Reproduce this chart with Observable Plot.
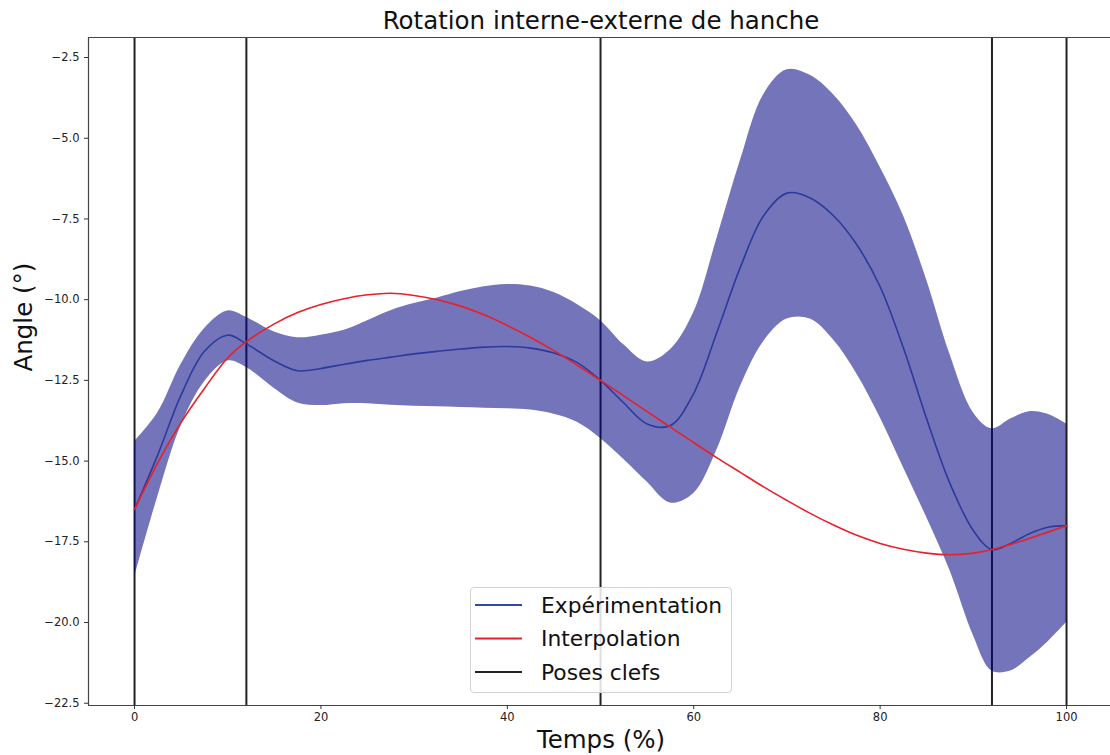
<!DOCTYPE html>
<html>
<head>
<meta charset="utf-8">
<script src="https://cdn.jsdelivr.net/npm/d3@7"></script>
<script src="https://cdn.jsdelivr.net/npm/@observablehq/plot@0.6"></script>
<style>
  html, body { margin: 0; padding: 0; background: #fff; overflow: hidden; }
  #wrap { position: relative; width: 1110px; height: 755px; overflow: hidden; }
  #wrap > svg { max-width: none !important; }
  #legend { position: absolute; left: 470px; top: 587px; width: 262px; height: 106px;
    border: 1px solid #d4d4d4; border-radius: 4px; background: rgba(255,255,255,0.85); box-sizing: border-box; }
</style>
</head>
<body>
<div id="wrap"></div>
<script>
// ---- data ----
const time   = [0, 2.5, 5, 7.5, 10, 12, 15, 17.5, 20, 22.5, 25, 27.5, 30, 32.5, 35, 37.5, 40, 42.5, 45, 47.5, 50, 52.5, 55, 57.5, 60, 62.5, 65, 67.5, 70, 72.5, 75, 77.5, 80, 82.5, 85, 87.5, 90, 92, 94, 96, 98, 100];
const upper  = [-14.4, -13.5, -12.0, -10.9, -10.35, -10.55, -11.0, -11.18, -11.1, -10.95, -10.65, -10.34, -10.12, -9.95, -9.75, -9.6, -9.53, -9.58, -9.78, -10.15, -10.65, -11.4, -11.93, -11.55, -10.4, -8.1, -5.7, -3.65, -2.88, -3.05, -3.65, -4.6, -5.9, -7.4, -9.4, -11.7, -13.5, -14.0, -13.7, -13.47, -13.55, -13.85];
const lower  = [-18.6, -16.1, -13.9, -12.55, -11.9, -12.1, -12.75, -13.2, -13.28, -13.22, -13.22, -13.27, -13.3, -13.32, -13.34, -13.36, -13.38, -13.42, -13.55, -13.8, -14.3, -14.95, -15.65, -16.3, -16.0, -14.65, -12.7, -11.3, -10.6, -10.6, -11.25, -12.3, -13.65, -15.2, -16.75, -18.4, -20.4, -21.5, -21.5, -21.1, -20.6, -20.0];
const meanExp = [-16.5, -14.8, -12.95, -11.6, -11.1, -11.37, -11.9, -12.2, -12.13, -12.0, -11.88, -11.78, -11.68, -11.6, -11.53, -11.47, -11.45, -11.5, -11.65, -11.95, -12.5, -13.2, -13.85, -13.9, -12.9, -11.0, -9.0, -7.4, -6.7, -6.85, -7.4, -8.3, -9.6, -11.5, -13.7, -15.7, -17.15, -17.74, -17.55, -17.25, -17.05, -17.0];
const interp = [-16.5, -15.05, -13.8, -12.75, -11.8, -11.3, -10.75, -10.4, -10.15, -9.97, -9.85, -9.8, -9.87, -10.0, -10.2, -10.47, -10.8, -11.17, -11.58, -12.03, -12.5, -12.98, -13.47, -13.95, -14.43, -14.9, -15.35, -15.8, -16.22, -16.62, -16.98, -17.3, -17.55, -17.73, -17.85, -17.9, -17.85, -17.74, -17.58, -17.4, -17.2, -17.0];
const keyPoses = [0, 12, 50, 92, 100];
const xTicks = [0, 20, 40, 60, 80, 100];
const yTicks = [-22.5, -20, -17.5, -15, -12.5, -10, -7.5, -5, -2.5];
const xDomain = [-4.94, 105.04];
const yDomain = [-22.57, -1.88];
const legendLabels = ["Expérimentation", "Interpolation", "Poses clefs"];
const legendColors = ["#3545b0", "#e8202a", "#222222"];
const titleText = "Rotation interne-externe de hanche";
const xLabel = "Temps (%)";
const yLabel = "Angle (°)";

const rows = time.map((t, i) => ({t, lo: lower[i], hi: upper[i], mean: meanExp[i], interp: interp[i]}));
const curve = "catmull-rom";
const fmt = d3.format(".1f");

const chart = Plot.plot({
  width: 1113,
  height: 755,
  marginLeft: 88,
  marginRight: 0,
  marginTop: 37,
  marginBottom: 50,
  style: {fontFamily: "DejaVu Sans", background: "white", color: "#222", maxWidth: "none"},
  x: {domain: xDomain},
  y: {domain: yDomain},
  marks: [
    Plot.ruleX(keyPoses, {x: d => d, stroke: "#222", strokeWidth: 2}),
    Plot.areaY(rows, {x: "t", y1: "lo", y2: "hi", fill: "#000080", fillOpacity: 0.545, curve}),
    Plot.line(rows, {x: "t", y: "mean", stroke: "#2d3a9c", strokeWidth: 1.6, curve}),
    Plot.line(rows, {x: "t", y: "interp", stroke: "#e8202a", strokeWidth: 1.6, curve}),
    // frame: top, bottom and left sides (right side lies outside the picture)
    Plot.ruleY(yDomain, {y: d => d, stroke: "#444", strokeWidth: 1.2}),
    Plot.ruleX([xDomain[0]], {x: d => d, stroke: "#444", strokeWidth: 1.2}),
    Plot.axisX({ticks: xTicks, tickSize: 4, tickPadding: 3, fontSize: 11.5, label: null, stroke: "#333"}),
    Plot.axisY({ticks: yTicks, tickFormat: fmt, tickSize: 4, tickPadding: 5, fontSize: 11.5, label: null, stroke: "#333"}),
    Plot.text([titleText], {frameAnchor: "top", dy: -16, fontSize: 24.5, fill: "#111", lineAnchor: "middle"}),
    Plot.text([xLabel], {frameAnchor: "bottom", dy: 35, fontSize: 24.5, fill: "#111", lineAnchor: "middle"}),
    Plot.text([yLabel], {frameAnchor: "left", dx: -64, rotate: -90, fontSize: 24.5, fill: "#111", lineAnchor: "middle"})
  ]
});
chart.style.maxWidth = "none";
document.getElementById("wrap").appendChild(chart);

// legend (HTML overlay)
const legend = document.createElement("div");
legend.id = "legend";
const ns = "http://www.w3.org/2000/svg";
const lsvg = document.createElementNS(ns, "svg");
lsvg.setAttribute("width", 260); lsvg.setAttribute("height", 104);
lsvg.style.fontFamily = "DejaVu Sans";
legendLabels.forEach((lab, i) => {
  const y = 17 + i * 33.5;
  const ln = document.createElementNS(ns, "line");
  ln.setAttribute("x1", 4); ln.setAttribute("x2", 51);
  ln.setAttribute("y1", y); ln.setAttribute("y2", y);
  ln.setAttribute("stroke", legendColors[i]); ln.setAttribute("stroke-width", 2);
  lsvg.appendChild(ln);
  const tx = document.createElementNS(ns, "text");
  tx.setAttribute("x", 70); tx.setAttribute("y", y);
  tx.setAttribute("dy", "0.35em");
  tx.setAttribute("font-size", 21.8);
  tx.setAttribute("fill", "#111");
  tx.textContent = lab;
  lsvg.appendChild(tx);
});
legend.appendChild(lsvg);
document.getElementById("wrap").appendChild(legend);
</script>
</body>
</html>
